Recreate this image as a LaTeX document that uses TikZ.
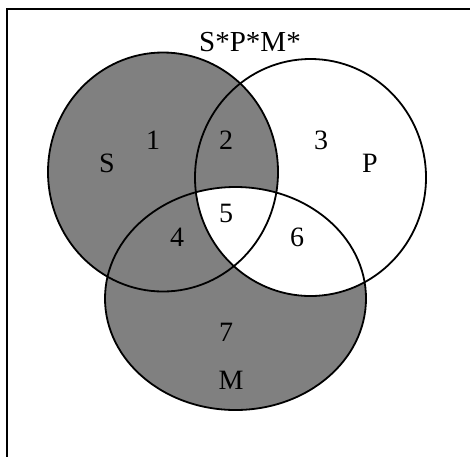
\documentclass[tikz,border=0pt]{standalone}
\usepackage{fontspec}
\setmainfont{Liberation Serif}
\begin{document}
\begin{tikzpicture}[x=1pt,y=-1pt,
  outline/.style={draw=black,line width=1.8pt},
  lbl/.style={font=\fontsize{28}{30}\selectfont,inner sep=0pt},
  shade/.style={fill=black!50}]
\useasboundingbox (0,0) rectangle (470,456);
\fill[white] (0,0) rectangle (470,456);
% frame (right and bottom sides lie outside the picture)
\draw[line width=1.8pt] (7,470) -- (7,9) -- (480,9);
% shading
\fill[shade] (163,172) ellipse [x radius=115, y radius=119.5];
\fill[shade] (235.5,298.5) ellipse [x radius=130.5, y radius=111.5];
\begin{scope}
  \clip (310.5,177.5) ellipse [x radius=115.5, y radius=118.5];
  \fill[white] (235.5,298.5) ellipse [x radius=130.5, y radius=111.5];
\end{scope}
% outlines
\draw[outline] (163,172) ellipse [x radius=115, y radius=119.5];
\draw[outline] (310.5,177.5) ellipse [x radius=115.5, y radius=118.5];
\draw[outline] (235.5,298.5) ellipse [x radius=130.5, y radius=111.5];
% labels
\node[lbl,font=\fontsize{29}{31}\selectfont] (t) at (250,42) {S*P*M*};
\node[lbl] (r1) at (153,140) {1};
\node[lbl] (r2) at (226,140) {2};
\node[lbl] (r3) at (321,140) {3};
\node[lbl] (s) at (107,163) {S};
\node[lbl] (p) at (370,163) {P};
\node[lbl] (r5) at (226,213) {5};
\node[lbl] (r4) at (177,237) {4};
\node[lbl] (r6) at (297,237) {6};
\node[lbl] (r7) at (226,332) {7};
\node[lbl] (m) at (231,380) {M};
\end{tikzpicture}
\end{document}
